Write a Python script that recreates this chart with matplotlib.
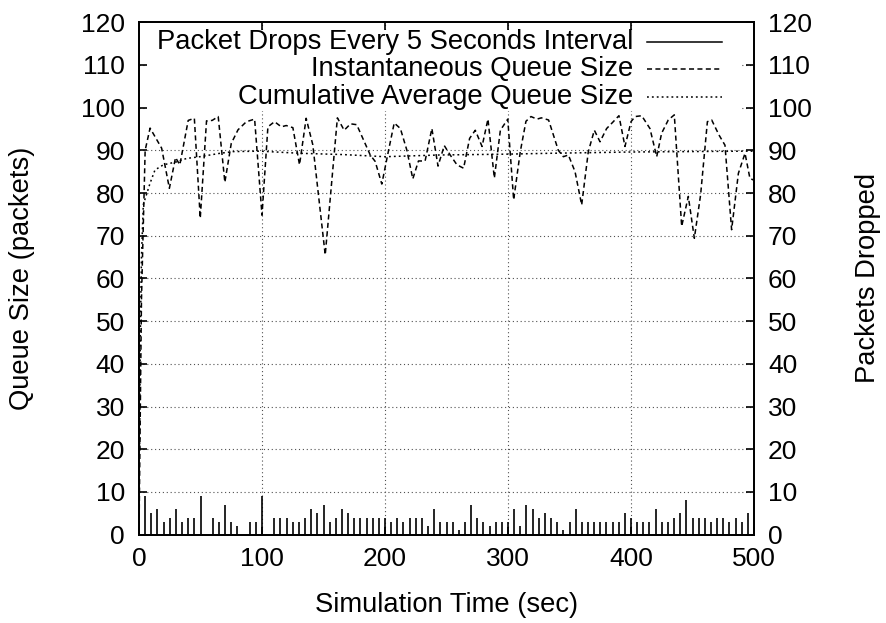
import matplotlib
matplotlib.use('Agg')
import matplotlib.pyplot as plt
from matplotlib.patches import Rectangle

plt.rcParams['font.family'] = ['Liberation Sans', 'DejaVu Sans']

# ---------------- data ----------------
drop_time = list(range(5, 500, 5))
drop_count = [9, 5, 6, 3, 4, 6, 3, 4, 4, 9,
              0, 4, 3, 7, 3, 2, 0, 3, 3, 9,
              0, 4, 4, 4, 3, 3, 4, 6, 5, 7,
              3, 4, 6, 5, 4, 4, 4, 4, 4, 4,
              3, 4, 3, 4, 4, 4, 2, 6, 3, 3,
              3, 1, 3, 7, 4, 3, 2, 3, 3, 3,
              6, 2, 7, 6, 4, 5, 4, 3, 1, 3,
              6, 3, 3, 3, 3, 3, 3, 3, 5, 4,
              3, 3, 3, 6, 3, 3, 4, 5, 8, 4,
              4, 4, 3, 4, 4, 3, 4, 3, 5]

inst_time = [0, 2, 5, 9, 18.4, 24.7, 29.7, 33.2, 40, 45, 49.8, 54.9, 59.5, 64.4,
             69.8, 75, 80.5, 87.3, 94, 100, 104.8, 110.2, 115.7, 119.7, 125.1,
             130.5, 135.9, 141.3, 151.4, 161.3, 166.8, 172, 177, 188, 192, 197.4,
             202.9, 207.5, 212.5, 217.8, 222.6, 227.2, 232.6, 238.1, 243.1, 248.2,
             253, 258.5, 263.9, 268.8, 273.4, 278.9, 283.7, 288.9, 293.8, 299.8,
             304.6, 310, 314.6, 318.7, 323.6, 327.1, 333, 340.9, 345, 349.1,
             354.5, 359.9, 365.3, 370.2, 374.8, 380.2, 385.6, 390.2, 395.1, 400,
             403.3, 408.7, 415.4, 420.9, 424.9, 430.3, 435.2, 441.2, 446.6, 451.5,
             456.6, 462.1, 465.6, 471.5, 476.4, 481.8, 487.3, 492.7, 496.7, 500]
inst_size = [0, 55, 90, 95.2, 90.5, 81.1, 88.3, 86.6, 97, 97.5, 74.1, 96.9, 97, 97.9,
             82.5, 91.6, 94.8, 96.7, 97.3, 74.8, 95.5, 96.7, 95.5, 95.8, 95.3,
             86.6, 97.5, 91.3, 65.5, 97.6, 94.7, 96.2, 96, 88.9, 87.4, 82.1,
             90, 96.4, 95.1, 90, 83.3, 87.5, 87.5, 95.1, 86.3, 91.1,
             88.9, 86.6, 85.8, 92.8, 94.7, 90.9, 97.3, 83.5, 94.7, 97.3,
             78.4, 89.7, 96.8, 97.9, 97.3, 97.6, 97.1, 90, 88.5, 88.9,
             85, 77.2, 89.7, 94.7, 92, 95.1, 96.7, 98.1, 90.9, 96.7,
             97.9, 98.1, 95.1, 88.5, 94, 97.1, 98.3, 72.2, 79.2, 69.4,
             79.6, 96.7, 97.1, 93.6, 91.2, 71.4, 84.6, 89.3, 83.4, 83]

avg_time = [0.5, 1, 2, 3.5, 9, 13, 19.8, 30.6, 38.8, 49.6, 65.9, 76.7, 98.4,
            130.9, 166, 200, 244, 299, 334, 400, 492, 500]
avg_size = [20, 45, 65, 77.3, 82.3, 85.4, 86.6, 87.3, 88.1, 88.5, 89.3, 89.7, 89.8,
            89.3, 89.0, 88.5, 88.9, 89.1, 89.3, 89.6, 89.8, 89.8]

legend_labels = ['Packet Drops Every 5 Seconds Interval',
                 'Instantaneous Queue Size',
                 'Cumulative Average Queue Size']
x_ticks = [0, 100, 200, 300, 400, 500]
y_ticks = list(range(0, 121, 10))

# ---------------- styles ----------------
FS = 19
FS_TXT = 19.7
INST_LS = (0, (3.3, 2.2))
AVG_LS = (0, (1.2, 2.0))
GRID_LS = (0, (1, 2.5))

W, H = 886, 623
fig = plt.figure(figsize=(W / 100, H / 100), dpi=100)
L, R, B, T = 139, 754, 534.6, 22.2
ax = fig.add_axes([L / W, 1 - B / H, (R - L) / W, (B - T) / H])
ax.set_xlim(0, 500)
ax.set_ylim(0, 120)

# grid
for y in y_ticks[1:-1]:
    ax.axhline(y, color='#505050', lw=0.8, ls=GRID_LS, zorder=0.5)
for x in x_ticks[1:-1]:
    ax.axvline(x, color='#505050', lw=0.8, ls=GRID_LS, zorder=0.5)

# opaque key area
ax.add_patch(Rectangle((6.5, 99.3), 482, 18.9, facecolor='white',
                       edgecolor='none', zorder=0.8))

# data
ax.vlines(drop_time, 0, drop_count, color='black', lw=1.2, zorder=2)
ax.plot(inst_time, inst_size, color='black', lw=1.1, ls=INST_LS, zorder=2)
ax.plot(avg_time, avg_size, color='black', lw=1.1, ls=AVG_LS, zorder=2)

# key
key_y = [115.4, 109.0, 102.5]
styles = ['-', INST_LS, AVG_LS]
for lab, yy, st in zip(legend_labels, key_y, styles):
    ax.text(401.6, yy, lab, ha='right', va='center', fontsize=FS_TXT, zorder=3)
    ax.plot([413, 474], [yy, yy], color='black', lw=1.1, ls=st, zorder=3)

ax.set_xticks(x_ticks)
ax.set_yticks(y_ticks)
ax.tick_params(direction='in', length=6, width=1.2, labelsize=FS,
               top=True, right=False)
ax.tick_params(axis='y', pad=10)
ax.tick_params(axis='x', pad=9)
for s in ax.spines.values():
    s.set_linewidth(1.3)

ax2 = ax.twinx()
ax2.set_ylim(0, 120)
ax2.set_yticks(y_ticks)
ax2.tick_params(direction='in', length=6, width=1.2, labelsize=FS, pad=10)
for s in ax2.spines.values():
    s.set_linewidth(1.3)

fig.text(446.5 / W, 1 - 605 / H, 'Simulation Time (sec)', ha='center',
         va='center', fontsize=FS_TXT)
fig.text(22 / W, 1 - 278 / H, 'Queue Size (packets)', ha='center',
         va='center', rotation=90, fontsize=FS_TXT)
fig.text(868 / W, 1 - 278 / H, 'Packets Dropped', ha='center',
         va='center', rotation=90, fontsize=FS_TXT)

fig.savefig('out.png', dpi=100)
